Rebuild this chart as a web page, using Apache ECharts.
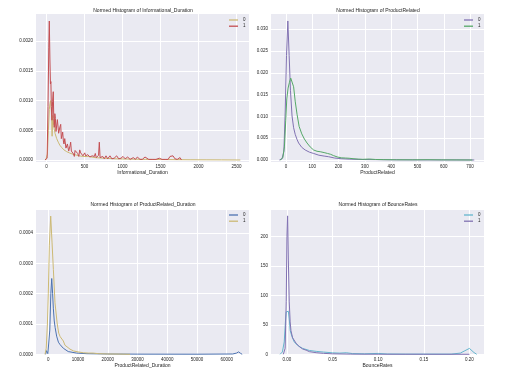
<!DOCTYPE html>
<html><head><meta charset="utf-8">
<script src="https://cdn.jsdelivr.net/npm/echarts@6/dist/echarts.min.js"></script>
<style>html,body{margin:0;padding:0;background:#fff}#c{width:512px;height:374px}</style>
</head><body><div id="c"></div>
<script>
// ---------- Panel 1: Informational_Duration ----------
const infoClass0 = [[-10,0],[0,0],[12,0.0001],[25,0.0005],[37,0.00085],[46,0.00095],[55,0.001],[65,0.0008],[74,0.0004],[82,0.00075],[95,0.00058],[112,0.00045],[134,0.00036],[155,0.0003],[175,0.00025],[200,0.00021],[230,0.00017],[266,0.00014],[300,0.00012],[340,0.0001],[400,0.00008],[470,0.00006],[550,0.00006],[640,0.00004],[750,0.00003],[900,0.00002],[1100,0.000015],[1300,0.00001],[1500,0.000008],[1700,0.000006],[1900,0.000004],[2100,0.000003],[2300,0.000002],[2550,0]];
const infoClass1 = [[-20,0],[-5,0],[8,0.00003],[20,0.0009],[30,0.0019],[37,0.00234],[45,0.0017],[52,0.00128],[58,0.00132],[64,0.0009],[72,0.00067],[80,0.00098],[89,0.00115],[96,0.0007],[103,0.00055],[110,0.00078],[117,0.0007],[125,0.00048],[134,0.0005],[143,0.00068],[151,0.0007],[160,0.00045],[168,0.00043],[177,0.00056],[187,0.0006],[195,0.00036],[203,0.00033],[213,0.00047],[222,0.00032],[230,0.00027],[240,0.00036],[248,0.00039],[256,0.0002],[266,0.0002],[275,0.00027],[284,0.00029],[292,0.00015],[300,0.00014],[310,0.00024],[318,0.0003],[327,0.00015],[336,0.00013],[346,0.00012],[356,0.0001],[366,0.00006],[376,0.00016],[385,0.00018],[395,0.00014],[410,0.00011],[425,0.00006],[437,0.00017],[450,0.00012],[465,0.00014],[480,0.00007],[493,0.00008],[503,0.00012],[515,0.00007],[530,0.00005],[543,0.00009],[555,0.00012],[570,0.00005],[585,0.00004],[600,0.00007],[615,0.00004],[630,0.00006],[642,0.00011],[655,0.00004],[670,0.00003],[685,0.00008],[695,0.0003],[705,0.00004],[720,0.00002],[740,0.00006],[760,0.00002],[783,0.00007],[805,0.00002],[835,0.00007],[860,0.00002],[890,0.00003],[923,0.00007],[950,0.00002],[980,0.00003],[1007,0.00006],[1035,0.00002],[1068,0.00005],[1100,0.00001],[1142,0.00004],[1170,0.00001],[1195,0.00005],[1230,0.00001],[1260,0.00001],[1296,0.00005],[1322,0.00004],[1345,0.00001],[1362,0.00004],[1400,0.00001],[1440,0.00001],[1484,0.00003],[1520,0.00001],[1560,0.00001],[1600,0.00001],[1625,0.00006],[1645,0.00008],[1664,0.00007],[1690,0.00002],[1720,0.00001],[1757,0.00004],[1775,0]];
const infoXTicks = [0,500,1000,1500,2000,2500];
const infoYTicks = [0,0.0005,0.001,0.0015,0.002];

// ---------- Panel 2: ProductRelated ----------
const prodClass0 = [[-25,0],[-15,0.0003],[-8,0.002],[-3,0.011],[2,0.024],[7,0.0319],[12,0.024],[17,0.016],[23,0.0101],[29,0.0074],[35,0.0059],[42,0.0047],[48,0.0039],[60,0.0029],[73,0.0023],[89,0.0018],[105,0.0015],[125,0.0011],[145,0.0009],[162,0.00075],[185,0.00045],[210,0.0003],[240,0.0002],[270,0.00014],[300,0.0001],[340,0.00008],[380,0.00005],[430,0.00003],[500,0.00002],[600,0.00001],[716,0]];
const prodClass1 = [[-22,0],[-12,0.0005],[-6,0.003],[-1,0.009],[3,0.014],[8,0.0165],[13,0.0178],[18,0.0188],[23,0.0186],[29,0.0168],[35,0.0135],[42,0.0105],[50,0.0077],[60,0.006],[70,0.0048],[80,0.0039],[92,0.003],[105,0.0023],[118,0.002],[130,0.0019],[145,0.0017],[158,0.0015],[170,0.0013],[181,0.001],[195,0.0007],[210,0.0005],[226,0.00045],[240,0.0004],[255,0.0003],[275,0.0002],[292,0.00015],[317,0.00022],[340,0.00012],[370,0.00008],[420,0.00005],[480,0.00004],[540,0.00006],[590,0.00003],[650,0.00002],[709,0]];
const prodXTicks = [0,100,200,300,400,500,600,700];
const prodYTicks = [0,0.005,0.01,0.015,0.02,0.025,0.03];

// ---------- Panel 3: ProductRelated_Duration ----------
const durClass0 = [[-900,0],[-600,0.000012],[-350,0.000012],[-150,0.000002],[150,0.000002],[500,0.00008],[850,0.0002],[1150,0.00025],[1450,0.0002],[1700,0.00015],[2000,0.00011],[2300,0.000088],[2800,0.00006],[3400,0.00004],[3950,0.000032],[5050,0.00002],[6700,0.000009],[9500,0.000004],[13000,0.000002],[20000,0.000001],[30000,0.0000005],[50000,0.0000003],[62000,0.000001],[63300,0.000004],[64000,0.000008],[64700,0.000003],[65200,0]];
const durClass1 = [[-1100,0],[-700,0.00002],[-300,0.0001],[0,0.0002],[350,0.00036],[800,0.000456],[1250,0.00037],[1700,0.00028],[2250,0.00017],[3000,0.0001],[3500,0.00007],[4000,0.000058],[4500,0.000052],[5050,0.000044],[5600,0.00003],[6200,0.000024],[7300,0.000017],[8500,0.000011],[10000,0.000008],[11800,0.000005],[13500,0.000004],[15000,0.000004],[17000,0.000002],[20000,0.000001],[24000,0.0000008],[27500,0]];
const durXTicks = [0,10000,20000,30000,40000,50000,60000];
const durYTicks = [0,0.0001,0.0002,0.0003,0.0004];

// ---------- Panel 4: BounceRates ----------
const bounceClass0 = [[-0.0075,0],[-0.005,4],[-0.003,21],[-0.0015,60],[-0.0008,72],[0,73],[0.0015,73],[0.0025,60],[0.0036,40],[0.0055,30],[0.008,21],[0.0117,15],[0.0172,10],[0.0245,6.5],[0.032,5],[0.04,3.8],[0.05,2.5],[0.058,2],[0.065,2.6],[0.072,1.2],[0.085,0.8],[0.1,1.5],[0.11,0.5],[0.13,0.3],[0.15,0.3],[0.18,0.3],[0.19,2],[0.195,6],[0.2,10],[0.205,3],[0.208,0]];
const bounceClass1 = [[-0.004,0],[-0.002,10],[-0.0008,90],[0,200],[0.0007,235],[0.0015,160],[0.0025,89],[0.0035,55],[0.0044,40],[0.0062,28],[0.0099,19],[0.0135,13],[0.0172,9],[0.021,7],[0.0245,4.5],[0.032,2.7],[0.04,1.6],[0.05,0.8],[0.07,0.3],[0.1,0.1],[0.15,0.05],[0.2,0]];
const bounceXTicks = [0,0.05,0.1,0.15,0.2];
const bounceYTicks = [0,50,100,150,200];

const titles = ['Normed Histogram of Informational_Duration','Normed Histogram of ProductRelated','Normed Histogram of ProductRelated_Duration','Normed Histogram of BounceRates'];
const xNames = ['Informational_Duration','ProductRelated','ProductRelated_Duration','BounceRates'];
const legendNames = ['0','1'];

const FONT = 'Liberation Sans, Arial, DejaVu Sans, sans-serif';
const TXT = '#262626';
const grids = [
  {left:36, top:14, width:213, height:148},
  {left:271, top:14, width:213, height:148},
  {left:36, top:210, width:213, height:145},
  {left:271, top:210, width:213, height:145}
];
const xRanges = [[-138,2664],[-57,753],[-4140,67500],[-0.0175,0.216]];
const yRanges = [[-0.0000337,0.002458],[-0.00046,0.0335],[-0.0000023,0.000476],[-1.2,245]];
const xTickSets = [infoXTicks, prodXTicks, durXTicks, bounceXTicks];
const yTickSets = [infoYTicks, prodYTicks, durYTicks, bounceYTicks];
const xFmt = [v=>v.toFixed(0), v=>v.toFixed(0), v=>v.toFixed(0), v=>v.toFixed(2)];
const yFmt = [v=>v.toFixed(4), v=>v.toFixed(3), v=>v.toFixed(4), v=>v.toFixed(0)];
const nameGaps = [7,7,8,8];
const seriesData = [[infoClass0, infoClass1],[prodClass0, prodClass1],[durClass0, durClass1],[bounceClass0, bounceClass1]];
const colors = [['#ccb974','#c44e52'],['#8172b2','#55a868'],['#4c72b0','#ccb974'],['#64b5cd','#8172b2']];
const prefixes = ['a','b','c','d'];

function mkAxis(i, isX) {
  const ticks = isX ? xTickSets[i] : yTickSets[i];
  const r = isX ? xRanges[i] : yRanges[i];
  const ax = {
    type:'value', gridIndex:i, min:r[0], max:r[1],
    axisLine:{show:false},
    axisTick:{show:false, customValues:ticks},
    axisLabel:{customValues:ticks, fontSize:4.5, color:TXT, fontFamily:FONT, margin: isX ? 2 : 3, formatter: isX ? xFmt[i] : yFmt[i]},
    splitLine:{show:true, lineStyle:{color:'#ffffff', width:1}}
  };
  if (isX) {
    ax.name = xNames[i]; ax.nameLocation = 'middle'; ax.nameGap = nameGaps[i];
    ax.nameTextStyle = {fontSize:5, color:TXT, fontFamily:FONT};
  }
  return ax;
}

const option = {
  animation:false,
  backgroundColor:'#ffffff',
  title: titles.map((t,i)=>({
    text:t, left: grids[i].left + grids[i].width/2 + 0.5, top: i<2 ? 8.6 : 202.6, textAlign:'center', padding:0,
    textStyle:{fontSize:5, fontWeight:'normal', color:TXT, fontFamily:FONT}
  })),
  grid: grids.map(g=>Object.assign({show:true, backgroundColor:'#EAEAF2', borderWidth:0}, g)),
  xAxis: [0,1,2,3].map(i=>mkAxis(i,true)),
  yAxis: [0,1,2,3].map(i=>mkAxis(i,false)),
  legend: [0,1,2,3].map(i=>({
    orient:'vertical', left: grids[i].left + grids[i].width - 20, top: i<2 ? 17.5 : 212.5,
    icon:'rect', itemWidth:9, itemHeight:1.3, itemGap:1.2, padding:0,
    data: legendNames.map(n=>prefixes[i]+n),
    formatter: n=>n.slice(1),
    textStyle:{fontSize:4.5, lineHeight:5, color:TXT, fontFamily:FONT}
  })),
  series: []
};
for (let i=0;i<4;i++) {
  for (let k=0;k<2;k++) {
    option.series.push({
      type:'line', name: prefixes[i]+legendNames[k], xAxisIndex:i, yAxisIndex:i,
      data: seriesData[i][k], symbol:'none', showSymbol:false,
      lineStyle:{width:1, color:colors[i][k]}, itemStyle:{color:colors[i][k]},
      clip:true
    });
  }
}
const chart = echarts.init(document.getElementById('c'), null, {renderer:'canvas'});
chart.setOption(option);
</script></body></html>
